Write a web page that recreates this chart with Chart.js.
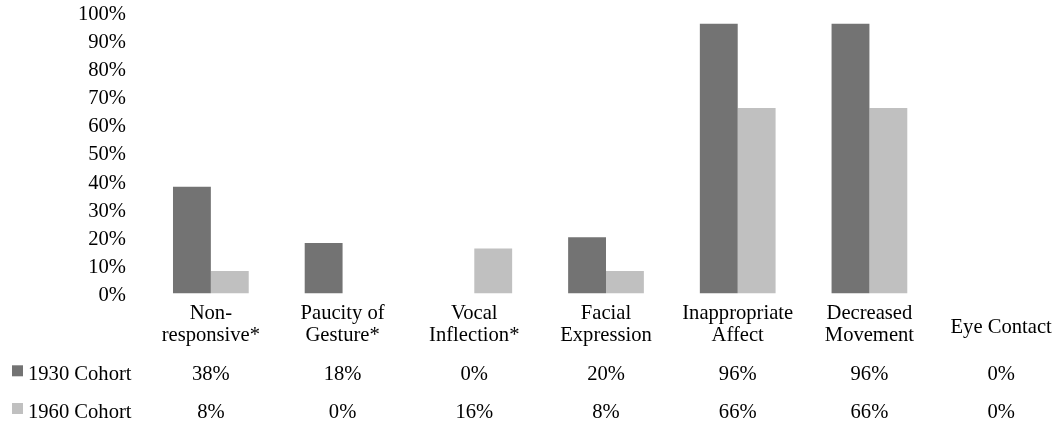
<!DOCTYPE html>
<html>
<head>
<meta charset="utf-8">
<script src="https://cdn.jsdelivr.net/npm/chart.js@4"></script>
<style>
  html, body { margin: 0; padding: 0; background: #fff; overflow: hidden; width: 1057px; height: 423px; }
  canvas { display: block; }
</style>
</head>
<body>
<canvas id="c" width="1067" height="423"></canvas>
<script>
const categories = [
  ["Non-", "responsive*"],
  ["Paucity of", "Gesture*"],
  ["Vocal", "Inflection*"],
  ["Facial", "Expression"],
  ["Inappropriate", "Affect"],
  ["Decreased", "Movement"],
  ["Eye Contact"]
];
const seriesNames = ["1930 Cohort", "1960 Cohort"];
const cohort1930 = [38, 18, 0, 20, 96, 96, 0];
const cohort1960 = [8, 0, 16, 8, 66, 66, 0];
const seriesColors = ["#737373", "#c0c0c0"];
const yTicks = [0, 10, 20, 30, 40, 50, 60, 70, 80, 90, 100];

const FONT_SIZE = 20.6;
const FONT_FAMILY = '"Liberation Serif", "Times New Roman", serif';
const FONT = FONT_SIZE + 'px ' + FONT_FAMILY;

const tablePlugin = {
  id: 'dataTable',
  afterDraw(chart) {
    const ctx = chart.ctx;
    const xs = chart.scales.x;
    const bottom = chart.chartArea.bottom;
    ctx.save();
    ctx.font = FONT;
    ctx.fillStyle = '#000';
    ctx.textAlign = 'center';
    ctx.textBaseline = 'alphabetic';
    categories.forEach((lab, i) => {
      const x = xs.getPixelForValue(i);
      if (lab.length === 1) {
        ctx.fillText(lab[0], x, bottom + 39.5);
      } else {
        lab.forEach((line, j) => ctx.fillText(line, x, bottom + 25 + j * 22.4));
      }
    });
    const rows = [cohort1930, cohort1960];
    const rowBase = [bottom + 86.3, bottom + 124];
    rows.forEach((vals, r) => {
      ctx.textAlign = 'center';
      vals.forEach((v, i) => {
        ctx.fillText(v + '%', xs.getPixelForValue(i), rowBase[r]);
      });
      ctx.fillStyle = seriesColors[r];
      ctx.fillRect(12, rowBase[r] - 14.5, 11, 11);
      ctx.fillStyle = '#000';
      ctx.textAlign = 'left';
      ctx.fillText(seriesNames[r], 28, rowBase[r]);
    });
    ctx.restore();
  }
};

new Chart(document.getElementById('c'), {
  type: 'bar',
  data: {
    labels: categories,
    datasets: [
      { label: seriesNames[0], data: cohort1930, backgroundColor: seriesColors[0], borderWidth: 0 },
      { label: seriesNames[1], data: cohort1960, backgroundColor: seriesColors[1], borderWidth: 0 }
    ]
  },
  options: {
    responsive: false,
    animation: false,
    devicePixelRatio: 1,
    layout: { padding: { top: 12.5, bottom: 129.5, left: 0, right: 0 } },
    datasets: { bar: { categoryPercentage: 0.575, barPercentage: 1.0 } },
    plugins: { legend: { display: false }, tooltip: { enabled: false } },
    scales: {
      x: { display: false, offset: true, grid: { display: false } },
      y: {
        min: 0, max: 100,
        afterFit(scale) { scale.width = 145; },
        afterBuildTicks(scale) { scale.ticks = yTicks.map(v => ({ value: v })); },
        grid: { display: false, drawTicks: true, tickLength: 19 },
        border: { display: false },
        ticks: {
          padding: 0,
          labelOffset: 2,
          color: '#000',
          font: { family: FONT_FAMILY, size: FONT_SIZE },
          callback: v => v + '%'
        }
      }
    }
  },
  plugins: [tablePlugin]
});
</script>
</body>
</html>
